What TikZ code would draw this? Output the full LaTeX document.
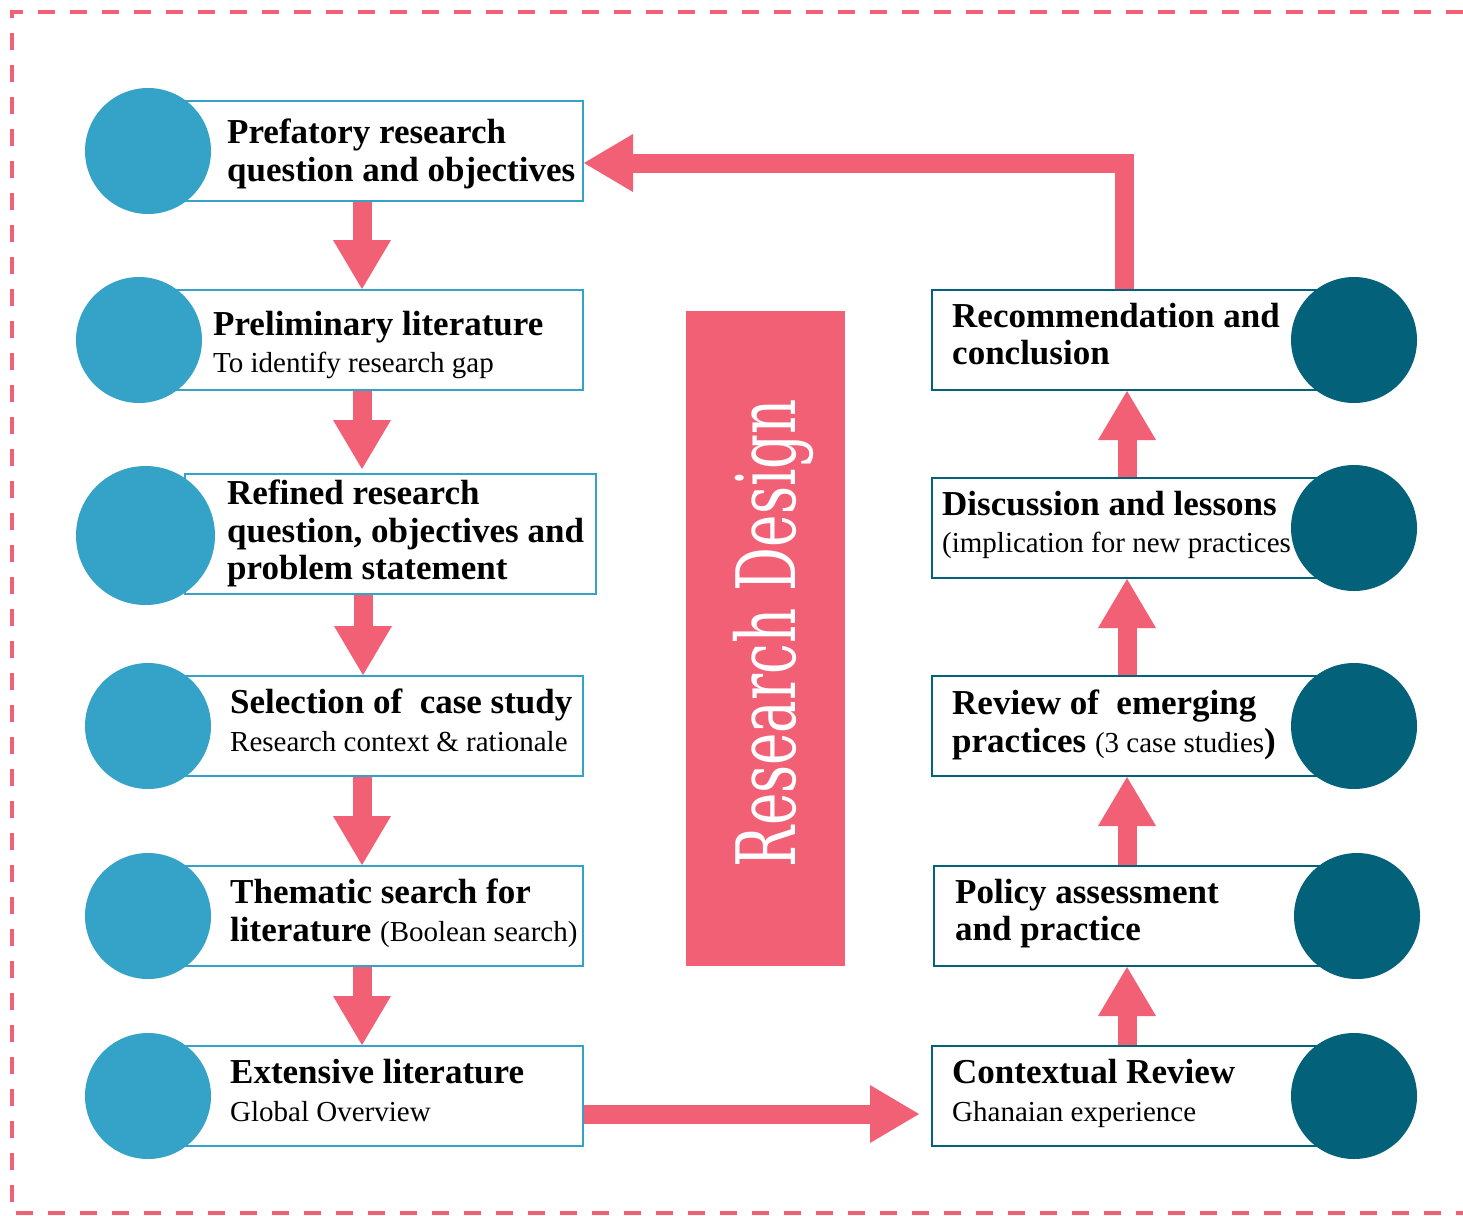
\documentclass[tikz,border=0pt]{standalone}
\usepackage{fontspec}
\setmainfont{Liberation Serif}
\newfontfamily\djs{DejaVu Serif}
\usetikzlibrary{arrows.meta}
\definecolor{lblue}{HTML}{35A2C8}
\definecolor{dteal}{HTML}{03627A}
\definecolor{pinkc}{HTML}{F26076}
\newcommand\bfnt{\fontsize{35}{37.5}\selectfont\bfseries}
\newcommand\regtxt[1]{{\fontsize{29}{37.5}\selectfont\mdseries #1}}
\begin{document}
\begin{tikzpicture}[x=1pt,y=-1pt,
  box/.style={line width=2pt, fill=white, inner sep=0pt, minimum height=100pt},
  lbox/.style={box, draw=lblue},
  rbox/.style={box, draw=dteal},
  lcirc/.style={circle, fill=lblue, minimum size=126pt, inner sep=0pt},
  rcirc/.style={circle, fill=dteal, minimum size=126pt, inner sep=0pt},
  txt/.style={anchor=north west, inner sep=0pt, align=left, font=\bfnt},
  fat/.style={draw=pinkc, line width=19pt, -{Triangle[width=58pt,length=49pt,line width=0pt]}}
]
\useasboundingbox (0,0) rectangle (1463,1215);
% dashed frame
\draw[pinkc, line width=4pt, dash pattern=on 17pt off 15pt] (1463,12) -- (12,12) -- (12,1213) -- (1463,1213);

% left boxes
\node[lbox, minimum width=400pt] (b1) at (383,151) {};
\node[lbox, minimum width=408pt] (b2) at (379,340) {};
\node[lbox, minimum width=411pt, minimum height=120pt] (b3) at (390.5,534) {};
\node[lbox, minimum width=398pt] (b4) at (384,726) {};
\node[lbox, minimum width=398pt] (b5) at (384,916) {};
\node[lbox, minimum width=398pt] (b6) at (384,1096) {};
% right boxes
\node[rbox, minimum width=388pt] (r1) at (1126,340) {};
\node[rbox, minimum width=388pt] (r2) at (1126,528) {};
\node[rbox, minimum width=388pt] (r3) at (1126,726) {};
\node[rbox, minimum width=388pt] (r4) at (1128,916) {};
\node[rbox, minimum width=388pt] (r5) at (1126,1096) {};

% central bar
\node[fill=pinkc, minimum width=159pt, minimum height=655pt, inner sep=0pt] (rd) at (765.5,638.5) {};
\node[rotate=90, anchor=base, text=white, inner sep=0pt, font=\fontsize{82}{82}\selectfont\djs] (rdt) at (795,633) {\scalebox{0.667}[1]{Research Design}};

% helper coordinates
\coordinate (lx) at (362,0);
\coordinate (rx) at (1127,0);
\coordinate (tx) at (1124,0);
\coordinate (ty) at (0,163);
\coordinate (by) at (0,1114);

% arrows
\draw[fat] (lx |- b1.south) -- (lx |- b2.north);
\draw[fat] (lx |- b2.south) -- ([yshift=4pt]lx |- b3.north);
\draw[fat] ([xshift=1pt]lx |- b3.south) -- ([xshift=1pt]lx |- b4.north);
\draw[fat] (lx |- b4.south) -- (lx |- b5.north);
\draw[fat] (lx |- b5.south) -- (lx |- b6.north);
\draw[fat] (b6.east |- by) -- ([xshift=-12pt]r5.west |- by);
\draw[fat] (rx |- r5.north) -- (rx |- r4.south);
\draw[fat] (rx |- r4.north) -- (rx |- r3.south);
\draw[fat] (rx |- r3.north) -- (rx |- r2.south);
\draw[fat] (rx |- r2.north) -- (rx |- r1.south);
\draw[fat, line join=miter] (r1.north -| tx) -- (tx |- ty) -- (b1.east |- ty);

% texts
\node[txt] (t1) at (227,119) {Prefatory research\\question and objectives};
\node[txt] (t2) at (213,311) {Preliminary literature\\\regtxt{To identify research gap}};
\node[txt] (t3) at (227,480) {Refined research\\question, objectives and\\problem statement};
\node[txt] (t4) at (230,689) {Selection of\ \ case study\\\regtxt{Research context \& rationale}};
\node[txt] (t5) at (230,879) {Thematic search for\\literature \regtxt{(Boolean search)}};
\node[txt] (t6) at (230,1059) {Extensive literature\\\regtxt{Global Overview}};
\node[txt] (s1) at (952,303) {Recommendation and\\conclusion};
\node[txt] (s2) at (942,491) {Discussion and lessons\\\regtxt{(implication for new practices}};
\node[txt] (s3) at (952,690) {Review of\ \ emerging\\practices \regtxt{(3 case studies}\/)};
\node[txt] (s4) at (955,879) {Policy assessment\\and practice};
\node[txt] (s5) at (952,1059) {Contextual Review\\\regtxt{Ghanaian experience}};

% circles
\node[lcirc] (c1) at (148,151) {};
\node[lcirc] (c2) at (139,340) {};
\node[lcirc, minimum size=139pt] (c3) at (145.5,535.5) {};
\node[lcirc] (c4) at (148,726) {};
\node[lcirc] (c5) at (148,916) {};
\node[lcirc] (c6) at (148,1096) {};
\node[rcirc] (d1) at (1354,340) {};
\node[rcirc] (d2) at (1354,528) {};
\node[rcirc] (d3) at (1354,726) {};
\node[rcirc] (d4) at (1357,916) {};
\node[rcirc] (d5) at (1354,1096) {};
\end{tikzpicture}
\end{document}
